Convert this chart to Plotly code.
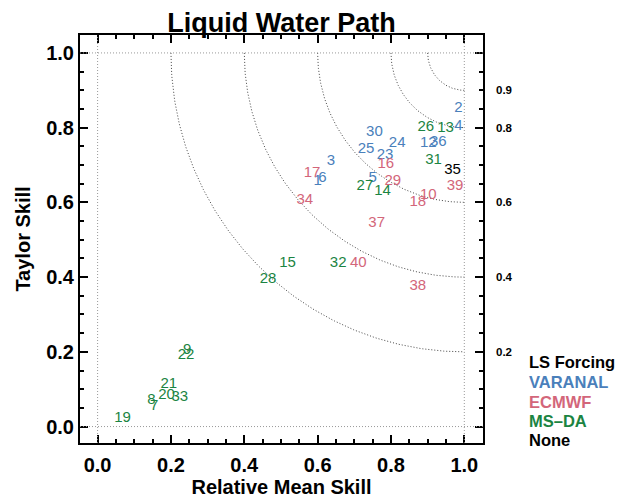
import numpy as np
import plotly.graph_objects as go

# ---- data ----
labels = ["1", "2", "3", "4", "5", "6", "12", "23", "24", "25", "30", "36",
          "10", "16", "17", "18", "29", "34", "37", "38", "39", "40",
          "7", "8", "9", "13", "14", "15", "19", "20", "21", "22", "26", "27", "28", "31", "32", "33",
          "35"]
rel_mean_skill = [0.600, 0.984, 0.636, 0.984, 0.750, 0.613, 0.902, 0.784, 0.817, 0.732, 0.755, 0.929,
                  0.902, 0.786, 0.585, 0.873, 0.805, 0.565, 0.761, 0.873, 0.975, 0.711,
                  0.154, 0.147, 0.244, 0.949, 0.777, 0.518, 0.068, 0.188, 0.194, 0.241, 0.895, 0.729, 0.465, 0.916, 0.656, 0.224,
                  0.968]
taylor_skill = [0.656, 0.852, 0.709, 0.803, 0.665, 0.665, 0.758, 0.727, 0.758, 0.743, 0.789, 0.760,
                0.620, 0.703, 0.678, 0.600, 0.656, 0.607, 0.544, 0.375, 0.642, 0.437,
                0.055, 0.071, 0.203, 0.799, 0.629, 0.437, 0.022, 0.085, 0.112, 0.192, 0.801, 0.642, 0.393, 0.714, 0.437, 0.078,
                0.687]
forcing = (["VARANAL"] * 12 + ["ECMWF"] * 10 + ["MS\u2013DA"] * 16 + ["None"] * 1)

forcing_names = ["VARANAL", "ECMWF", "MS\u2013DA", "None"]
forcing_colors = ["#4a80bb", "#d3667a", "#1b8442", "#000000"]

arc_radii = [0.1, 0.2, 0.4, 0.6, 0.8]
arc_labels = ["0.9", "0.8", "0.6", "0.4", "0.2"]

FONT = "Liberation Sans"

fig = go.Figure()

# reference arcs centred on (1, 1)
for r in arc_radii:
    t = np.linspace(np.pi, 1.5 * np.pi, 200)
    fig.add_trace(go.Scatter(x=1 + r * np.cos(t), y=1 + r * np.sin(t), mode="lines",
                             line=dict(color="#444444", width=1, dash="1px,2px"),
                             hoverinfo="skip", showlegend=False))

# model labels
for name, col in zip(forcing_names, forcing_colors):
    idx = [i for i, f in enumerate(forcing) if f == name]
    fig.add_trace(go.Scatter(
        x=[rel_mean_skill[i] for i in idx], y=[taylor_skill[i] for i in idx],
        text=[labels[i] for i in idx], mode="text", textposition="middle center",
        textfont=dict(family=FONT, size=15, color=col), showlegend=False))

# dotted reference lines at 0 and 1
for v in [0, 1]:
    fig.add_shape(type="line", xref="x", yref="paper", x0=v, x1=v, y0=0, y1=1,
                  line=dict(color="#999999", width=1, dash="1px,2px"))
    fig.add_shape(type="line", xref="paper", yref="y", x0=0, x1=1, y0=v, y1=v,
                  line=dict(color="#999999", width=1, dash="1px,2px"))

# arc labels on the right
for r, lab in zip(arc_radii, arc_labels):
    fig.add_annotation(x=1.027, xref="paper", y=1 - r, yref="y", text=lab, showarrow=False,
                       xanchor="left", yanchor="middle",
                       font=dict(family=FONT, size=11.5, color="black", weight="bold"))

# forcing legend
leg_y = [0.199, 0.1495, 0.101, 0.054, 0.007]
leg_txt = ["LS Forcing"] + forcing_names
leg_col = ["#000000"] + forcing_colors
for yy, tx, c in zip(leg_y, leg_txt, leg_col):
    fig.add_annotation(x=1.108, xref="paper", y=yy, yref="paper", text=tx, showarrow=False,
                       xanchor="left", yanchor="middle",
                       font=dict(family=FONT, size=16.5, color=c, weight="bold"))

axis_common = dict(showgrid=False, zeroline=False, showline=True, linecolor="black", linewidth=2,
                   mirror="ticks", ticks="inside", ticklen=8, tickwidth=2, tickcolor="black",
                   dtick=0.2, tick0=0, tickformat=".1f", automargin=False,
                   tickfont=dict(family=FONT, size=20, color="black", weight="bold"),
                   minor=dict(dtick=0.05, tick0=0, ticks="inside", ticklen=4, tickwidth=2,
                              tickcolor="black", showgrid=False))

fig.update_xaxes(range=[-0.048, 1.051], ticklabelstandoff=3,
                 title=dict(text="Relative Mean Skill", standoff=3,
                            font=dict(family=FONT, size=20, color="black", weight="bold")),
                 **axis_common)
fig.update_yaxes(range=[-0.044, 1.048],
                 title=dict(text="Taylor Skill", standoff=10,
                            font=dict(family=FONT, size=20, color="black", weight="bold")),
                 **axis_common)

# page has an 8px body margin, so the figure is drawn 8px smaller and offset
fig.update_layout(
    width=615, height=493,
    margin=dict(l=72, r=140, t=27, b=58),
    plot_bgcolor="white", paper_bgcolor="white",
    title=dict(text="Liquid Water Path", x=(72 + 201.5) / 615, xanchor="center", y=0.971, yanchor="middle",
               font=dict(family=FONT, size=27, color="black", weight="bold")),
    showlegend=False,
)

fig.write_html("out.html")
